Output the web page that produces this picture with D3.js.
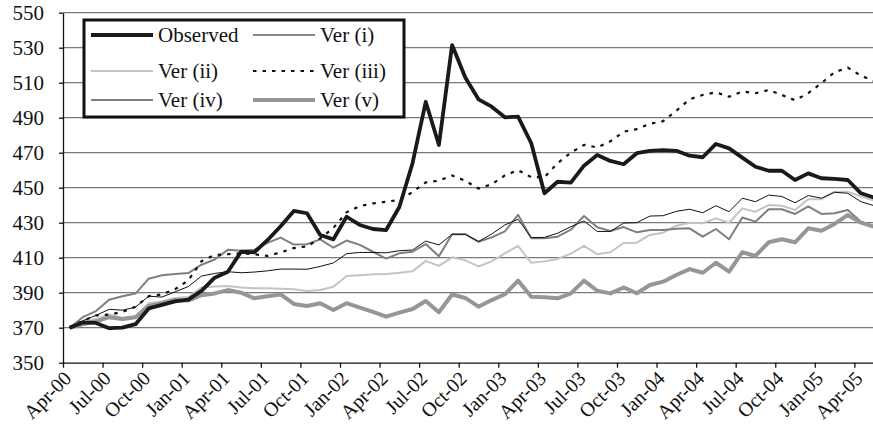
<!DOCTYPE html>
<html>
<head>
<meta charset="utf-8">
<script src="https://cdn.jsdelivr.net/npm/d3@7"></script>
<style>
  body { margin: 0; background: #fff; }
  text { font-family: "Liberation Serif", "Times New Roman", serif; fill: #111; }
</style>
</head>
<body>
<script>
var width = 873;
var height = 438;

// monthly, Apr-00 .. May-05
var tickLabels = ["Apr-00", "Jul-00", "Oct-00", "Jan-01", "Apr-01", "Jul-01", "Oct-01",
    "Jan-02", "Apr-02", "Jul-02", "Oct-02", "Jan-03", "Apr-03", "Jul-03", "Oct-03",
    "Jan-04", "Apr-04", "Jul-04", "Oct-04", "Jan-05", "Apr-05"];

var observed = [370, 373, 372.7, 369.7, 370, 372, 381, 383, 385, 386, 391, 398.6, 402, 413.4, 413,
    420, 428, 436.7, 435.4, 423, 420.5, 433.4, 428.7, 426.4, 425.8, 439, 464, 499.1, 474.4, 531.5,
    513, 500.5, 496.3, 490.2, 490.6, 475.4, 446.8, 453.4, 452.9, 462.6, 468.7, 465.3, 463.4, 469.7,
    471.1, 471.5, 471.1, 468.3, 467.4, 475, 472.5, 467.2, 462, 459.7, 459.7, 454.4, 458.2, 455.4,
    455, 454.4, 446.8, 444.3];

var ver1 = [370, 374, 377, 380.5, 380, 381.7, 388, 387.5, 390.5, 393.5, 399.5, 401, 402, 401.4, 401.8,
    402.5, 403.5, 403.5, 403.4, 405, 407, 412.3, 413, 413, 412.8, 414, 414.4, 419.5, 417.3, 423.4,
    423.4, 419.3, 423.5, 428.7, 432, 421.5, 421.6, 424, 427.7, 431, 425, 425, 429.8, 430, 433.8,
    434, 436.5, 437.7, 435.7, 439.7, 436.3, 444, 442, 445.8, 445, 441.4, 445.5, 444, 447.4, 446.8,
    442, 439.7];

var ver2 = [370, 373, 375, 377.5, 375.5, 376.5, 384, 385, 387, 387.5, 393, 393.5, 393.8, 393, 392.5,
    392.5, 392.3, 392, 391, 391.5, 393.4, 399.5, 400, 400.5, 400.7, 401.4, 402.2, 408.2, 405.3, 410.2,
    408.5, 405, 407.9, 412.5, 416.7, 407.1, 407.9, 409.3, 412.3, 416.8, 412, 413.1, 418.4, 418.6,
    423, 424.3, 428.3, 430, 429.7, 432.5, 430, 438.2, 436.3, 440.1, 439.7, 437.3, 443.4, 443.4,
    447.7, 447.7, 444.9, 442.6];

var ver3 = [370, 374, 377, 377.5, 379, 382, 388, 389, 392, 397, 408, 411.5, 412, 412.5, 412, 411,
    413, 415.5, 416.5, 421, 427, 436, 439.5, 441, 442, 443, 447.5, 453, 454, 457, 454, 449.5, 452,
    457, 460, 456, 456, 464, 470, 474.5, 473, 476.5, 482, 483.5, 486.5, 488, 494, 500.5, 503, 504.5,
    502, 505, 504, 505.8, 503, 500, 504, 509.7, 516, 518.6, 514, 511];

var ver4 = [370, 376, 379.5, 386, 388, 389.5, 398, 400, 400.7, 401.2, 406, 409, 414.5, 414, 414.6,
    418.5, 421.5, 417.5, 417.7, 420.5, 415.7, 419.8, 417.3, 413.4, 409.5, 412.5, 413.4, 417.8, 410.8,
    423.4, 423.4, 419.1, 421.6, 425, 434.5, 421.1, 421.1, 422, 426, 433.8, 427.4, 425.3, 427.5,
    424.5, 425.8, 425.8, 426.5, 426.8, 422, 426.4, 420.5, 433, 430.6, 437.7, 437.7, 435, 439.3, 435,
    435.4, 437.3, 430.6, 427.7];

var ver5 = [370, 372, 373.5, 376, 375, 376, 382.4, 384, 385.8, 385.5, 388.6, 389.6, 391.5, 390, 386.8,
    388, 389, 383.6, 382.4, 384, 380.1, 384, 381.5, 379, 376.3, 378.6, 380.7, 385.3, 378.8, 389, 387,
    382, 385.8, 389.1, 396.9, 387.7, 387.4, 386.8, 389.6, 396.9, 391.1, 389.6, 393, 389.7, 394.4,
    396.3, 400.1, 403.5, 401.4, 407.1, 402, 413.1, 411, 418.8, 420.5, 418.8, 426.8, 425.4, 429.3,
    434.4, 430, 427.7];

var yTicks = [350, 370, 390, 410, 430, 450, 470, 490, 510, 530, 550];

var series = [
    { name: "Observed", values: observed, color: "#1a1a1a", w: 3.8, dash: null },
    { name: "Ver (i)", values: ver1, color: "#111", w: 1, dash: null },
    { name: "Ver (ii)", values: ver2, color: "#c4c4c4", w: 2, dash: null },
    { name: "Ver (iii)", values: ver3, color: "#111", w: 2.2, dash: "3.5,6" },
    { name: "Ver (iv)", values: ver4, color: "#7f7f7f", w: 2, dash: null },
    { name: "Ver (v)", values: ver5, color: "#969696", w: 4, dash: null }
];

var plotLeft = 63, plotTop = 12.7, plotBottom = 362.7;
var monthW = 13.19;

var svg = d3.select("body").append("svg")
    .attr("width", width)
    .attr("height", height);

var xScale = d3.scaleLinear()
    .domain([0, observed.length])
    .range([plotLeft, plotLeft + observed.length * monthW]);

var yScale = d3.scaleLinear()
    .domain([350, 550])
    .range([plotBottom, plotTop]);

// gridlines
svg.append("g").selectAll("line")
    .data(yTicks.slice(1))
    .enter().append("line")
    .attr("x1", plotLeft)
    .attr("x2", width)
    .attr("y1", function(d) { return yScale(d); })
    .attr("y2", function(d) { return yScale(d); })
    .attr("stroke", "#7a7a7a")
    .attr("stroke-width", 1.2);

// y axis
var yAxis = svg.append("g")
    .attr("transform", "translate(" + plotLeft + ",0)")
    .call(d3.axisLeft(yScale).tickValues(yTicks).tickSize(4).tickPadding(15).tickSizeOuter(0));
yAxis.selectAll("text").style("font-size", "21px").style("font-family", "Liberation Serif");
yAxis.selectAll("line, path").attr("stroke", "#111").attr("stroke-width", 1.3);

// x axis
var xAxis = svg.append("g")
    .attr("transform", "translate(0," + plotBottom + ")")
    .call(d3.axisBottom(xScale)
        .tickValues(d3.range(0, 61, 3))
        .tickFormat(function(d, i) { return tickLabels[i]; })
        .tickSize(5)
        .tickSizeOuter(0));
xAxis.selectAll("line, path").attr("stroke", "#111").attr("stroke-width", 1.3);
xAxis.selectAll("text")
    .style("font-size", "20px")
    .style("font-family", "Liberation Serif")
    .style("text-anchor", "end")
    .attr("dy", null)
    .attr("y", 0)
    .attr("transform", "translate(9,17) rotate(-45)");

var line = d3.line()
    .x(function(d, i) { return xScale(i + 0.5); })
    .y(function(d) { return yScale(d); });

var plot = svg.append("g");
var order = [2, 4, 5, 1, 3, 0];
order.forEach(function(k) {
    var s = series[k];
    plot.append("path")
        .datum(s.values)
        .attr("d", line)
        .attr("fill", "none")
        .attr("stroke", s.color)
        .attr("stroke-width", s.w)
        .attr("stroke-linejoin", "round")
        .attr("stroke-dasharray", s.dash);
});

// legend
var legend = svg.append("g");
legend.append("rect")
    .attr("x", 84)
    .attr("y", 20)
    .attr("width", 320)
    .attr("height", 97)
    .attr("fill", "#fff")
    .attr("stroke", "#111")
    .attr("stroke-width", 3);

var rowsY = [35, 71, 100];
var colX = [91, 253];
series.forEach(function(s, i) {
    var cx = colX[i % 2], cy = rowsY[Math.floor(i / 2)];
    legend.append("line")
        .attr("x1", cx)
        .attr("x2", cx + 62)
        .attr("y1", cy)
        .attr("y2", cy)
        .attr("stroke", s.color)
        .attr("stroke-width", s.w)
        .attr("stroke-dasharray", s.dash);
    legend.append("text")
        .attr("x", cx + 67)
        .attr("y", cy)
        .attr("dy", "0.35em")
        .style("font-size", "21px")
        .text(s.name);
});
</script>
</body>
</html>
